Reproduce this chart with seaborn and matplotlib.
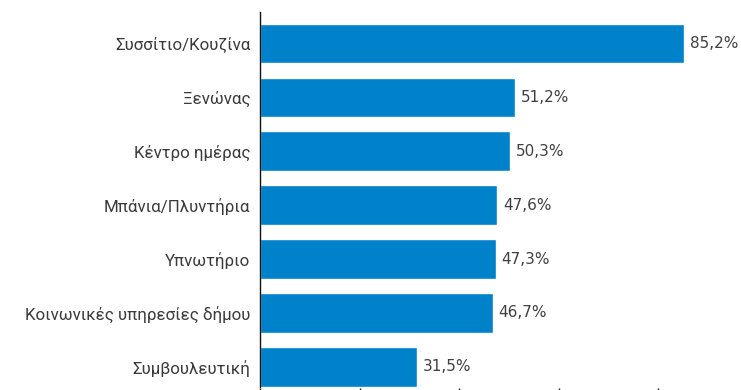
import matplotlib
matplotlib.use("Agg")
import matplotlib.pyplot as plt
import seaborn as sns
import pandas as pd

categories = [
    "Συσσίτιο/Κουζίνα",
    "Ξενώνας",
    "Κέντρο ημέρας",
    "Μπάνια/Πλυντήρια",
    "Υπνωτήριο",
    "Κοινωνικές υπηρεσίες δήμου",
    "Συμβουλευτική",
]
values = [85.2, 51.2, 50.3, 47.6, 47.3, 46.7, 31.5]
value_labels = ["85,2%", "51,2%", "50,3%", "47,6%", "47,3%", "46,7%", "31,5%"]
x_ticks = [0, 20, 40, 60, 80]

df = pd.DataFrame({"category": categories, "value": values})

sns.set_theme(style="white")
plt.rcParams["font.family"] = ["Roboto", "DejaVu Sans"]

W, H = 741, 390
fig = plt.figure(figsize=(W / 100, H / 100), dpi=100)
left, right, top, bottom = 260, 741, 12.3, 387.5
ax = fig.add_axes([left / W, 1 - bottom / H, (right - left) / W, (bottom - top) / H])

bar_color = "#0082CB"
sns.barplot(data=df, x="value", y="category", color=bar_color, width=0.735,
            saturation=1, ax=ax, orient="h")

ax.set_xlim(0, (right - left) / 4.98)
ax.set_ylim(6.385, -0.58)
ax.set_xticks(x_ticks)
ax.set_xticklabels([])
ax.set_xlabel("")
ax.set_ylabel("")

for s in ["top", "right", "bottom"]:
    ax.spines[s].set_visible(False)
ax.spines["left"].set_color("#111111")
ax.spines["left"].set_linewidth(1.0)

ax.tick_params(axis="y", length=0, pad=7, labelsize=12.2, labelcolor="#3a3a3a")
ax.tick_params(axis="x", bottom=True, direction="out", length=6, width=1.0,
               color="#222222")

for i, (v, lab) in enumerate(zip(values, value_labels)):
    ax.text(v + 1.15, i, lab, va="center", ha="left", fontsize=11,
            color="#404040", family="DejaVu Sans")

fig.savefig("out.png", dpi=100)
